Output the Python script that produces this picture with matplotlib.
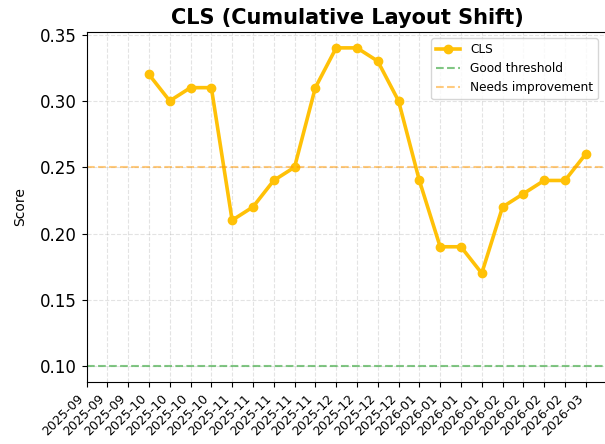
import matplotlib
matplotlib.use("Agg")
import matplotlib.pyplot as plt

# weekly tick labels (year-month)
week_labels = ["2025-09", "2025-09", "2025-09", "2025-10", "2025-10", "2025-10",
               "2025-10", "2025-11", "2025-11", "2025-11", "2025-11", "2025-11",
               "2025-12", "2025-12", "2025-12", "2025-12", "2026-01", "2026-01",
               "2026-01", "2026-01", "2026-02", "2026-02", "2026-02", "2026-02",
               "2026-03"]
# CLS values start at the 4th week
first_week = 3
cls_values = [0.32, 0.30, 0.31, 0.31, 0.21, 0.22, 0.24, 0.25, 0.31, 0.34, 0.34,
              0.33, 0.30, 0.24, 0.19, 0.19, 0.17, 0.22, 0.23, 0.24, 0.24, 0.26]
good_threshold = 0.10
needs_improvement = 0.25

fig = plt.figure(figsize=(6.05, 4.44), dpi=100)
# right edge of the axes sits just past the image edge (cropped like the original)
ax = fig.add_axes([0.143, 0.1396, 0.862, 0.7884])

x = list(range(first_week, first_week + len(cls_values)))
ax.plot(x, cls_values, color="#FFC107", linewidth=2.6, marker="o", markersize=6, label="CLS")
ax.axhline(good_threshold, color="#4CAF50", linestyle="--", alpha=0.7, label="Good threshold")
ax.axhline(needs_improvement, color="#FF9800", linestyle="--", alpha=0.5, label="Needs improvement")

ax.set_xticks(range(len(week_labels)))
ax.set_xticklabels(week_labels, rotation=45, ha="right", fontsize=9)
ax.set_xlim(0, 25.07)
ax.tick_params(axis="y", labelsize=12)
ax.set_ylabel("Score", fontsize=10, labelpad=9)
ax.set_title("CLS (Cumulative Layout Shift)", fontsize=15, fontweight="bold")
ax.grid(True, linestyle="--", alpha=0.35)
ax.legend(loc="upper right", bbox_to_anchor=(0.988, 0.914), bbox_transform=fig.transFigure,
          borderaxespad=0, fontsize=8.7)

fig.savefig("out.png", dpi=100)
